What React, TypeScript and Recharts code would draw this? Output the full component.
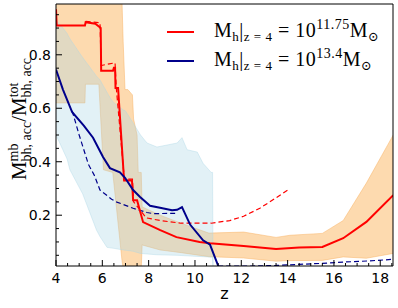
import { Area, ComposedChart, Legend, Line, XAxis, YAxis } from 'recharts'

// tick positions and labels
const xTicks = [4, 4.5, 5, 5.5, 6, 6.5, 7, 7.5, 8, 8.5, 9, 9.5, 10, 10.5, 11, 11.5, 12, 12.5, 13, 13.5, 14, 14.5, 15, 15.5, 16, 16.5, 17, 17.5, 18, 18.5]
const xMajor = [4, 6, 8, 10, 12, 14, 16, 18]
const yTicks = [0.05, 0.1, 0.15, 0.2, 0.25, 0.3, 0.35, 0.4, 0.45, 0.5, 0.55, 0.6, 0.65, 0.7, 0.75, 0.8, 0.85, 0.9, 0.95]
const yMajor = [0.2, 0.4, 0.6, 0.8]

// M_h = 10^11.75, median (solid) and mean (dashed)
const redZ = [4.0, 4.03, 5.25, 5.28, 5.7, 5.93, 5.95, 6.46, 6.5, 6.55, 6.57, 6.68, 6.94, 7.28, 7.33, 7.5, 7.76, 8.5, 9.2, 10.2, 10.65, 12.1, 13.5, 14.5, 15.5, 16.4, 17.4, 18.56]
const redV = [0.97, 0.91, 0.91, 0.922, 0.916, 0.9, 0.74, 0.74, 0.752, 0.752, 0.676, 0.676, 0.33, 0.33, 0.256, 0.256, 0.174, 0.144, 0.118, 0.1, 0.095, 0.085, 0.074, 0.079, 0.081, 0.114, 0.175, 0.275]
const redDashZ = [5.28, 5.9, 5.95, 6.3, 6.55, 6.6, 6.95, 7.3, 7.35, 7.9, 8.5, 9.4, 10.2, 10.7, 11.5, 12.1, 12.8, 13.5, 14.0]
const redDashV = [0.925, 0.92, 0.76, 0.766, 0.77, 0.68, 0.335, 0.335, 0.25, 0.19, 0.18, 0.17, 0.17, 0.17, 0.18, 0.196, 0.226, 0.265, 0.294]
const orangeZ = [4.0, 5.25, 5.27, 5.85, 6.05, 6.45, 6.85, 6.9, 6.98, 7.1, 7.3, 7.35, 7.5, 7.55, 7.68, 7.72, 7.75, 8.5, 9.4, 10.6, 12.1, 13.5, 14.1, 15.5, 16.4, 17.4, 18.56]
const orangeLo = [0.62, 0.62, 0.69, 0.69, 0.37, 0.36, 0.03, 0.0, 0.0, 0.0, 0.0, 0.0, 0.0, 0.0, 0.0, 0.09, 0.088, 0.07, 0.06, 0.045, 0.04, 0.028, 0.03, 0.031, 0.044, 0.039, 0.057]
const orangeHi = [1.0, 1.0, 1.0, 1.0, 1.0, 1.0, 1.0, 0.85, 0.67, 0.67, 0.65, 0.56, 0.5, 0.36, 0.36, 0.23, 0.23, 0.2, 0.17, 0.133, 0.137, 0.117, 0.125, 0.132, 0.18, 0.32, 0.5]

// M_h = 10^13.4
const blueZ = [4.0, 4.3, 4.7, 5.2, 5.6, 6.03, 6.33, 6.76, 6.98, 7.33, 7.63, 8.06, 8.49, 9.01, 9.23, 9.44, 9.79, 10.35, 10.65, 11.05]
const blueV = [0.745, 0.67, 0.585, 0.535, 0.49, 0.418, 0.376, 0.36, 0.34, 0.294, 0.268, 0.235, 0.228, 0.219, 0.22, 0.23, 0.165, 0.106, 0.09, 0.0]
const blueDashAZ = [4.7, 5.0, 5.4, 5.65, 5.9, 6.4, 6.63, 7.33, 7.93, 8.2, 9.27]
const blueDashAV = [0.59, 0.5, 0.39, 0.35, 0.294, 0.26, 0.249, 0.226, 0.21, 0.206, 0.207]
const blueDashBZ = [11.0, 12.5, 13.5, 14.5, 15.5, 16.5, 17.5, 18.56]
const blueDashBV = [0.01, 0.01, 0.012, 0.016, 0.02, 0.025, 0.029, 0.035]
const blueBandZ = [4.0, 4.3, 4.48, 4.6, 5.15, 5.75, 5.9, 6.2, 6.33, 6.5, 6.9, 7.0, 7.33, 7.65, 7.93, 8.36, 9.23, 9.44, 9.66, 10.1, 10.35, 10.7, 10.76, 10.78]
const blueBandLo = [0.5, 0.444, 0.41, 0.37, 0.28, 0.144, 0.12, 0.08, 0.078, 0.076, 0.07, 0.069, 0.065, 0.057, 0.055, 0.052, 0.05, 0.049, 0.048, 0.046, 0.045, 0.043, 0.043, 0]
const blueBandHi = [0.93, 0.9, 0.88, 0.86, 0.79, 0.72, 0.706, 0.66, 0.64, 0.62, 0.594, 0.59, 0.545, 0.5, 0.47, 0.455, 0.47, 0.49, 0.445, 0.436, 0.394, 0.36, 0.36, 0]

const legendExps = ['11.75', '13.4']
const legendColors = ['#ff0000', '#00008b']

const pts = (zs: number[], vs: number[]) => zs.map((z, i) => ({ z, v: vs[i] }))
const band = (zs: number[], lo: number[], hi: number[]) => zs.map((z, i) => ({ z, range: [lo[i], hi[i]] }))

const redLine = pts(redZ, redV)
const redDash = pts(redDashZ, redDashV)
const blueLine = pts(blueZ, blueV)
const blueDashA = pts(blueDashAZ, blueDashAV)
const blueDashB = pts(blueDashBZ, blueDashBV)
const orangeBand = band(orangeZ, orangeLo, orangeHi)
const blueBand = band(blueBandZ, blueBandLo, blueBandHi)

const SANS = '"DejaVu Sans", sans-serif'
const SERIF = '"Liberation Serif", "DejaVu Serif", serif'

const BottomTick = ({ x, y, payload }: any) => {
  const major = xMajor.includes(payload.value)
  return (
    <g>
      <line x1={x} x2={x} y1={y} y2={y - (major ? 6 : 3)} stroke="#000" />
      {major && (
        <text x={x} y={y + 17} textAnchor="middle" fontSize={14} fontFamily={SANS} fill="#000">
          {payload.value}
        </text>
      )}
    </g>
  )
}

const TopTick = ({ x, y, payload }: any) => (
  <line x1={x} x2={x} y1={y} y2={y + (xMajor.includes(payload.value) ? 6 : 3)} stroke="#000" />
)

const LeftTick = ({ x, y, payload }: any) => {
  const major = yMajor.includes(payload.value)
  return (
    <g>
      <line x1={x} x2={x + (major ? 6 : 3)} y1={y} y2={y} stroke="#000" />
      {major && (
        <text x={x - 5} y={y + 5} textAnchor="end" fontSize={14} fontFamily={SANS} fill="#000">
          {payload.value}
        </text>
      )}
    </g>
  )
}

const RightTick = ({ x, y, payload }: any) => (
  <line x1={x} x2={x - (yMajor.includes(payload.value) ? 6 : 3)} y1={y} y2={y} stroke="#000" />
)

const XLabel = ({ viewBox }: any) => (
  <text x={viewBox.x + viewBox.width / 2} y={viewBox.y + 33} textAnchor="middle" fontSize={16} fontFamily={SANS} fill="#000">
    z
  </text>
)

const YLabel = ({ viewBox }: any) => {
  const cx = 26
  const cy = viewBox.y + viewBox.height / 2 - 16
  return (
    <text transform={`rotate(-90, ${cx}, ${cy})`} x={cx} y={cy} textAnchor="middle" fontSize={21} fontFamily={SERIF} fill="#000">
      M
      <tspan fontSize={14} dy={-8}>mb</tspan>
      <tspan fontSize={14} dx={-18} dy={13}>bh, acc</tspan>
      <tspan dy={-5}>/M</tspan>
      <tspan fontSize={14} dy={-8}>tot</tspan>
      <tspan fontSize={14} dx={-15} dy={13}>bh, acc</tspan>
    </text>
  )
}

const sub = (t: string) => <span style={{ fontSize: 13, position: 'relative', top: 4 }}>{t}</span>
const sup = (t: string) => <span style={{ fontSize: 14, position: 'relative', top: -8 }}>{t}</span>

const renderLegend = () => (
  <div style={{ fontFamily: SERIF, fontSize: 20, color: '#000' }}>
    {legendExps.map((e, i) => (
      <div key={e} style={{ display: 'flex', alignItems: 'center', height: 29 }}>
        <svg width={27} height={4}>
          <line x1={0} x2={27} y1={2} y2={2} stroke={legendColors[i]} strokeWidth={2} />
        </svg>
        <span style={{ marginLeft: 20, whiteSpace: 'nowrap', lineHeight: '20px', letterSpacing: 0.5 }}>
          M{sub('h')}|{sub('z = 4')} = 10{sup(e)}M{sub('⊙')}
        </span>
      </div>
    ))}
  </div>
)

export default function App() {
  return (
    <div style={{ position: 'fixed', left: 0, top: 0, background: '#fff' }}>
      <ComposedChart width={398} height={308} margin={{ top: 3, right: 4, bottom: 0, left: 0 }}>
        <XAxis
          dataKey="z"
          type="number"
          domain={[4, 18.55]}
          ticks={xTicks}
          interval={0}
          allowDataOverflow
          height={42}
          tickSize={0}
          tickMargin={0}
          tickLine={false}
          axisLine={{ stroke: '#000' }}
          tick={BottomTick}
          label={XLabel}
        />
        <XAxis
          xAxisId="top"
          orientation="top"
          type="number"
          domain={[4, 18.55]}
          ticks={xTicks}
          interval={0}
          height={1}
          tickSize={0}
          tickMargin={0}
          tickLine={false}
          axisLine={{ stroke: '#000' }}
          tick={TopTick}
        />
        <YAxis
          type="number"
          domain={[0.01, 0.99]}
          ticks={yTicks}
          interval={0}
          allowDataOverflow
          width={56}
          tickSize={0}
          tickMargin={0}
          tickLine={false}
          axisLine={{ stroke: '#000' }}
          tick={LeftTick}
          label={YLabel}
        />
        <YAxis
          yAxisId="right"
          orientation="right"
          type="number"
          domain={[0.01, 0.99]}
          ticks={yTicks}
          interval={0}
          width={1}
          tickSize={0}
          tickMargin={0}
          tickLine={false}
          axisLine={{ stroke: '#000' }}
          tick={RightTick}
        />
        <Area data={orangeBand} dataKey="range" type="linear" fill="#fbb55f" fillOpacity={0.5} stroke="#f8b060" strokeOpacity={0.6} strokeWidth={0.8} isAnimationActive={false} activeDot={false} />
        <Area data={blueBand} dataKey="range" type="linear" fill="#add8e6" fillOpacity={0.35} stroke="#add8e6" strokeOpacity={0.5} strokeWidth={0.8} isAnimationActive={false} activeDot={false} />
        <Line data={redDash} dataKey="v" type="linear" stroke="#ff0000" strokeWidth={1.2} strokeDasharray="5 3" dot={false} activeDot={false} isAnimationActive={false} />
        <Line data={blueDashA} dataKey="v" type="linear" stroke="#00008b" strokeWidth={1.2} strokeDasharray="5 3" dot={false} activeDot={false} isAnimationActive={false} />
        <Line data={blueDashB} dataKey="v" type="linear" stroke="#00008b" strokeWidth={1.2} strokeDasharray="5 3" dot={false} activeDot={false} isAnimationActive={false} />
        <Line data={redLine} dataKey="v" type="linear" stroke="#ff0000" strokeWidth={2} dot={false} activeDot={false} isAnimationActive={false} />
        <Line data={blueLine} dataKey="v" type="linear" stroke="#00008b" strokeWidth={2} dot={false} activeDot={false} isAnimationActive={false} />
        <Legend
          layout="vertical"
          align="center"
          verticalAlign="middle"
          wrapperStyle={{ left: 167, top: 17, width: 230 }}
          content={renderLegend}
        />
      </ComposedChart>
    </div>
  )
}
